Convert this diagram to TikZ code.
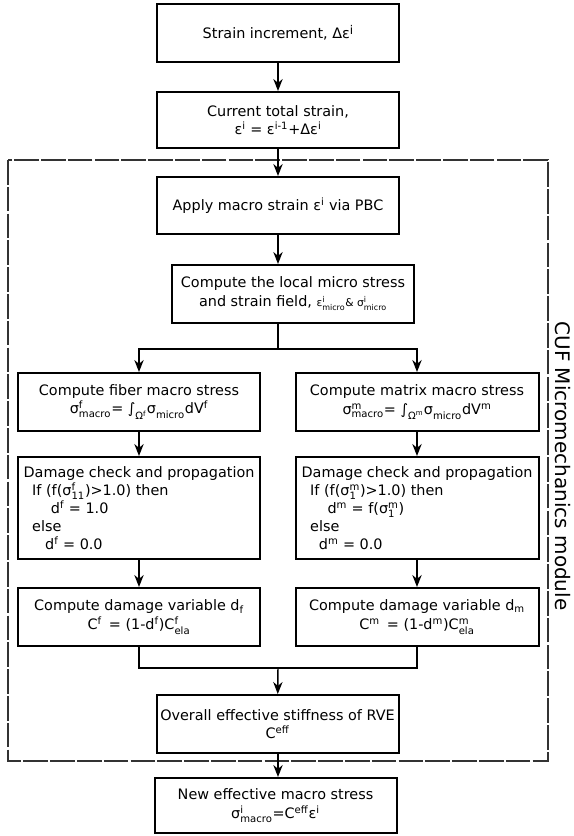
\documentclass[tikz,border=0pt]{standalone}
\usepackage{amsmath}
\usepackage{fontspec}
\setmainfont{DejaVu Sans}
\usepackage{tikz}
\usetikzlibrary{arrows.meta,positioning,calc}

\newcommand{\supsub}[2]{\ensuremath{{}^{\text{#1}}_{\text{#2}}}}

\tikzset{
  block/.style={draw, line width=1.5pt, align=center, inner sep=2pt,
    minimum width=181.5pt, minimum height=43.5pt,
    font=\fontsize{10.8}{14}\selectfont},
  dmgblock/.style={block, align=left, minimum height=76.5pt,
    font=\fontsize{10.8}{13.5}\selectfont},
  arr/.style={-{Stealth[length=9pt,width=7pt]}, line width=1.1pt},
  link/.style={line width=1.1pt},
  modbox/.style={draw=black!80, line width=1.5pt, dash pattern=on 18.5pt off 1.6pt}
}

\begin{document}
\begin{tikzpicture}[x=0.75pt,y=-0.75pt]
        \useasboundingbox (0,0) rectangle (574,836);

        % Module frame
        \draw[modbox] (8,160) rectangle (548,761);
        \node[rotate=-90, font=\fontsize{15}{18}\selectfont] (modlabel) at (563,466) {CUF Micromechanics module};

        % Main chain
        \node[block] (inc) at (278,33) {Strain increment, Δε\raisebox{.45ex}{\small i}};
        \node[block, minimum height=42pt] (tot) at (278,120) {Current total strain,\\ε\textsuperscript{i} = ε\textsuperscript{i-1}+Δε\textsuperscript{i}};
        \node[block, minimum height=42.75pt] (pbc) at (278,205.5) {Apply macro strain ε\textsuperscript{i} via PBC};
        \node[block] (loc) at (293,294) {Compute the local micro stress\\and strain field, {\footnotesize ε\supsub{i}{micro}\& σ\supsub{i}{micro}}};

        % Fiber branch
        \node[block] (fib) at (139,402) {Compute fiber macro stress\\σ\supsub{f}{macro}= ∫\supsub{}{Ω\textsuperscript{f}}σ\supsub{}{micro}dV\textsuperscript{f}};
        \node[dmgblock] (fdmg) at (139,508) {Damage check and propagation\\
          \hspace*{0.6em}If (f(σ\supsub{f}{11})>1.0) then\\
          \hspace*{1.9em}d\textsuperscript{f} = 1.0\\
          \hspace*{0.6em}else\\
          \hspace*{1.5em}d\textsuperscript{f} = 0.0};
        \node[block] (fvar) at (139,617) {Compute damage variable d\textsubscript{f}\\C\textsuperscript{f} \,= (1-d\textsuperscript{f})C\supsub{f}{ela}};

        % Matrix branch
        \node[block, minimum width=182.25pt] (mat) at (417,402) {Compute matrix macro stress\\σ\supsub{m}{macro}= ∫\supsub{}{Ω\textsuperscript{m}}σ\supsub{}{micro}dV\textsuperscript{m}};
        \node[dmgblock, minimum width=182.25pt] (mdmg) at (417,508) {Damage check and propagation\\
          \hspace*{0.6em}If (f(σ\supsub{m}{1})>1.0) then\\
          \hspace*{1.8em}d\textsuperscript{m} = f(σ\supsub{m}{1})\\
          \hspace*{0.6em}else\\
          \hspace*{1.2em}d\textsuperscript{m} = 0.0};
        \node[block, minimum width=182.25pt] (mvar) at (417,617) {Compute damage variable d\textsubscript{m}\\C\textsuperscript{m} \,= (1-d\textsuperscript{m})C\supsub{m}{ela}};

        % Output
        \node[block] (eff) at (277.5,724) {Overall effective stiffness of RVE\\C\textsuperscript{eff}};
        \node[block, minimum height=41.25pt] (new) at (275.5,805.5) {New effective macro stress\\σ\supsub{i}{macro}=C\textsuperscript{eff}ε\textsuperscript{i}};

        % Connectors
        \coordinate (split) at (278,349);
        \coordinate (merge) at (278,668);
        \draw[arr] (inc) -- (tot);
        \draw[arr] (tot) -- (pbc);
        \draw[arr] (pbc) -- (pbc.south |- loc.north);
        \draw[link] (loc.south -| pbc.south) -- (split);
        \draw[arr] (split) -| (fib.north);
        \draw[arr] (split) -| (mat.north);
        \draw[arr] (fib) -- (fdmg);
        \draw[arr] (mat) -- (mdmg);
        \draw[arr] (fdmg) -- (fvar);
        \draw[arr] (mdmg) -- (mvar);
        \draw[link] (fvar.south) |- (merge);
        \draw[link] (mvar.south) |- (merge);
        \draw[arr] (merge) -- (eff);
        \draw[arr] (eff.south -| split) -- (split |- new.north);
      \end{tikzpicture}
\end{document}
